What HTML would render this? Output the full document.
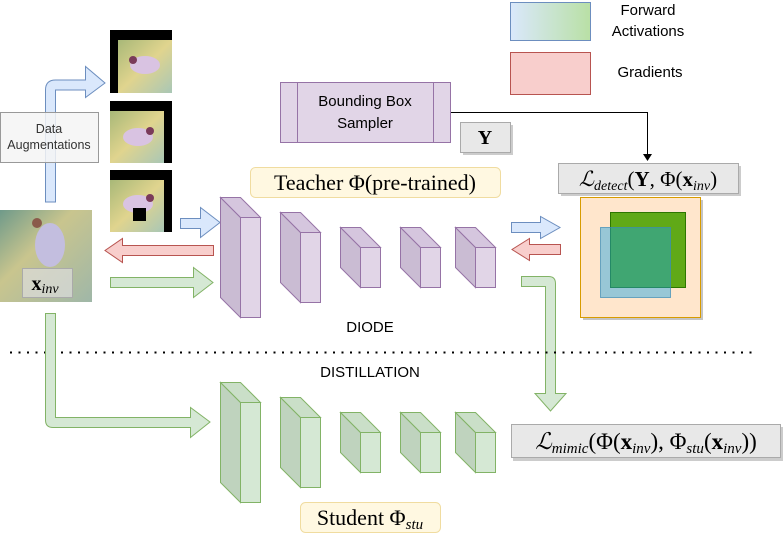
<!DOCTYPE html>
<html><head><meta charset="utf-8"><style>
html,body{margin:0;padding:0;background:#fff;}
svg{display:block;}
text{font-family:"Liberation Sans",sans-serif;}
.m{font-family:"Liberation Serif",serif;}
</style></head><body>
<svg width="783" height="547" viewBox="0 0 783 547" xmlns="http://www.w3.org/2000/svg">
<defs>
<linearGradient id="lg" x1="0" x2="1"><stop offset="0" stop-color="#dae8fc"/><stop offset="1" stop-color="#b9e0a5"/></linearGradient>
<linearGradient id="img" x1="0" y1="0" x2="1" y2="1"><stop offset="0" stop-color="#6f9a8a"/><stop offset="0.4" stop-color="#c9c58e"/><stop offset="1" stop-color="#9fb7a8"/></linearGradient>
<linearGradient id="img2" x1="0" y1="0" x2="1" y2="1"><stop offset="0" stop-color="#a8b878"/><stop offset="0.5" stop-color="#e0d48e"/><stop offset="1" stop-color="#a9c7b6"/></linearGradient>
</defs>

<rect x="510.5" y="2.5" width="80" height="38" fill="url(#lg)" stroke="#6c8ebf"/>
<rect x="510.5" y="52.5" width="80" height="42" fill="#f8cecc" stroke="#b85450"/>
<text x="648" y="15" font-size="15" text-anchor="middle">Forward</text>
<text x="648" y="36" font-size="15" text-anchor="middle">Activations</text>
<text x="650" y="77" font-size="15" text-anchor="middle">Gradients</text>

<rect x="280.5" y="82.5" width="170" height="60" fill="#e1d5e7" stroke="#9673a6"/>
<line x1="297.5" y1="82" x2="297.5" y2="143" stroke="#9673a6"/>
<line x1="433.5" y1="82" x2="433.5" y2="143" stroke="#9673a6"/>
<text x="365" y="106" font-size="15" text-anchor="middle">Bounding Box</text>
<text x="365" y="128" font-size="15" text-anchor="middle">Sampler</text>
<polyline points="451,112.5 647.5,112.5 647.5,155" fill="none" stroke="#000" stroke-width="1"/>
<polygon points="643,154 652,154 647.5,161" fill="#000"/>
<rect x="463" y="125" width="50" height="30" fill="#ccc"/>
<rect x="460.5" y="122.5" width="50" height="30" fill="#e8e8e8" stroke="#aaa"/>
<text x="485" y="144" font-size="20" font-weight="bold" text-anchor="middle" class="m">Y</text>

<g>
<rect x="110" y="30" width="62" height="63" fill="#000"/>
<rect x="118" y="40" width="54" height="53" fill="url(#img2)"/>
<ellipse cx="145" cy="65" rx="15" ry="9" fill="#d9c3e2"/><circle cx="133" cy="60" r="4" fill="#7a3a5a"/>
<rect x="110" y="101" width="62" height="62" fill="#000"/>
<rect x="110" y="111" width="54" height="52" fill="url(#img2)"/>
<ellipse cx="138" cy="137" rx="15" ry="9" fill="#d9c3e2"/><circle cx="150" cy="131" r="4" fill="#7a3a5a"/>
<rect x="110" y="170" width="62" height="62" fill="#000"/>
<rect x="110" y="180" width="54" height="52" fill="url(#img2)"/>
<ellipse cx="138" cy="204" rx="15" ry="9" fill="#d9c3e2"/><circle cx="150" cy="198" r="4" fill="#7a3a5a"/>
<rect x="133" y="208" width="13" height="13" fill="#000"/>
</g>

<path d="M45.5,202 L45.5,90 Q45.5,80 55.5,80 L85.5,80 L85.5,66.5 L105,83 L85.5,97.5 L85.5,90 L55.5,90 L55.5,202 Z" fill="#dae8fc" stroke="#6c8ebf"/>
<rect x="0.5" y="112.5" width="98" height="50" fill="#f5f5f5" fill-opacity="0.85" stroke="#999"/>
<text x="49" y="133" font-size="12.5" text-anchor="middle" fill="#333">Data</text>
<text x="49" y="149" font-size="12.5" text-anchor="middle" fill="#333">Augmentations</text>

<rect x="0" y="210" width="92" height="92" fill="url(#img)"/>
<ellipse cx="50" cy="245" rx="15" ry="22" fill="#c3bedf"/><circle cx="37" cy="223" r="5" fill="#8a5a4a"/>
<rect x="22.5" y="268.5" width="50" height="29" fill="#ddd" fill-opacity="0.7" stroke="#aaa"/>
<text x="45" y="290" font-size="20" font-weight="bold" text-anchor="middle" class="m">x<tspan font-size="14" font-style="italic" font-weight="normal" dy="3">inv</tspan></text>

<path d="M180.5,218.5 L200.5,218.5 L200.5,207.5 L220,222.5 L200.5,237.5 L200.5,228.5 L180.5,228.5 Z" fill="#dae8fc" stroke="#6c8ebf"/>
<path d="M213.5,245.5 L122.5,245.5 L122.5,238.5 L105,250.5 L122.5,262.5 L122.5,255.5 L213.5,255.5 Z" fill="#f8cecc" stroke="#b85450"/>
<path d="M110.5,277.5 L193.5,277.5 L193.5,267.5 L213,282.5 L193.5,297.5 L193.5,287.5 L110.5,287.5 Z" fill="#d5e8d4" stroke="#82b366"/>

<rect x="250.5" y="167.5" width="250" height="30" rx="5" fill="#fff8e1" stroke="#f0dca0"/>
<text x="375" y="190" font-size="22" text-anchor="middle" class="m">Teacher Φ(pre-trained)</text>

<g stroke="#9673a6" stroke-width="1">
<polygon points="220.5,197.5 240.5,217.5 240.5,317.5 220.5,297.5" fill="#cabcd3"/><polygon points="220.5,197.5 240.5,197.5 260.5,217.5 240.5,217.5" fill="#d5c6de"/><rect x="240.5" y="217.5" width="20" height="100" fill="#e1d5e7"/>
<polygon points="280.5,212.5 300.5,232.5 300.5,302.5 280.5,282.5" fill="#cabcd3"/><polygon points="280.5,212.5 300.5,212.5 320.5,232.5 300.5,232.5" fill="#d5c6de"/><rect x="300.5" y="232.5" width="20" height="70" fill="#e1d5e7"/>
<polygon points="340.5,227.5 360.5,247.5 360.5,287.5 340.5,267.5" fill="#cabcd3"/><polygon points="340.5,227.5 360.5,227.5 380.5,247.5 360.5,247.5" fill="#d5c6de"/><rect x="360.5" y="247.5" width="20" height="40" fill="#e1d5e7"/>
<polygon points="400.5,227.5 420.5,247.5 420.5,287.5 400.5,267.5" fill="#cabcd3"/><polygon points="400.5,227.5 420.5,227.5 440.5,247.5 420.5,247.5" fill="#d5c6de"/><rect x="420.5" y="247.5" width="20" height="40" fill="#e1d5e7"/>
<polygon points="455.5,227.5 475.5,247.5 475.5,287.5 455.5,267.5" fill="#cabcd3"/><polygon points="455.5,227.5 475.5,227.5 495.5,247.5 475.5,247.5" fill="#d5c6de"/><rect x="475.5" y="247.5" width="20" height="40" fill="#e1d5e7"/>
</g>

<path d="M511.5,222.5 L540.5,222.5 L540.5,216.5 L560,227.5 L540.5,238.5 L540.5,232.5 L511.5,232.5 Z" fill="#dae8fc" stroke="#6c8ebf"/>
<path d="M560.5,244.5 L529.5,244.5 L529.5,238.5 L512,249.5 L529.5,260.5 L529.5,254.5 L560.5,254.5 Z" fill="#f8cecc" stroke="#b85450"/>
<path d="M521.5,276.5 L548.5,276.5 Q555.5,276.5 555.5,283.5 L555.5,393.5 L566,393.5 L550.5,411 L535,393.5 L545.5,393.5 L545.5,286.5 L521.5,286.5 Z" fill="#d5e8d4" stroke="#82b366"/>

<rect x="561" y="166" width="180" height="30" fill="#ccc"/>
<rect x="558.5" y="163.5" width="180" height="30" fill="#e8e8e8" stroke="#aaa"/>
<text x="648" y="186" font-size="21" text-anchor="middle" class="m"><tspan font-style="italic">ℒ</tspan><tspan font-size="14" font-style="italic" dy="4">detect</tspan><tspan dy="-4">(</tspan><tspan font-weight="bold">Y</tspan>, Φ(<tspan font-weight="bold">x</tspan><tspan font-size="14" font-style="italic" dy="4">inv</tspan><tspan dy="-4">)</tspan></text>

<rect x="583" y="200" width="120" height="120" fill="#c4c4c4"/>
<rect x="580.5" y="197.5" width="120" height="120" fill="#ffe6cc" stroke="#d79b00"/>
<rect x="610.5" y="212.5" width="75" height="75" fill="#60a917" stroke="#2d7600"/>
<rect x="600.5" y="227.5" width="70" height="70" fill="#1ba1e2" fill-opacity="0.45" stroke="#3a8cb5" stroke-opacity="0.7"/>

<text x="370" y="332" font-size="15" text-anchor="middle">DIODE</text>
<line x1="10" y1="352.5" x2="752" y2="352.5" stroke="#000" stroke-width="2" stroke-dasharray="2,6.5"/>
<text x="370" y="377" font-size="15" text-anchor="middle">DISTILLATION</text>

<path d="M45.5,313.5 L45.5,420 Q45.5,427.5 53,427.5 L190.5,427.5 L190.5,437.5 L210,422 L190.5,407.5 L190.5,417.5 L55.5,417.5 L55.5,313.5 Z" fill="#d5e8d4" stroke="#82b366"/>

<g stroke="#82b366" stroke-width="1">
<polygon points="220.5,382.5 240.5,402.5 240.5,502.5 220.5,482.5" fill="#bfd3be"/><polygon points="220.5,382.5 240.5,382.5 260.5,402.5 240.5,402.5" fill="#cadfc8"/><rect x="240.5" y="402.5" width="20" height="100" fill="#d5e8d4"/>
<polygon points="280.5,397.5 300.5,417.5 300.5,487.5 280.5,467.5" fill="#bfd3be"/><polygon points="280.5,397.5 300.5,397.5 320.5,417.5 300.5,417.5" fill="#cadfc8"/><rect x="300.5" y="417.5" width="20" height="70" fill="#d5e8d4"/>
<polygon points="340.5,412.5 360.5,432.5 360.5,472.5 340.5,452.5" fill="#bfd3be"/><polygon points="340.5,412.5 360.5,412.5 380.5,432.5 360.5,432.5" fill="#cadfc8"/><rect x="360.5" y="432.5" width="20" height="40" fill="#d5e8d4"/>
<polygon points="400.5,412.5 420.5,432.5 420.5,472.5 400.5,452.5" fill="#bfd3be"/><polygon points="400.5,412.5 420.5,412.5 440.5,432.5 420.5,432.5" fill="#cadfc8"/><rect x="420.5" y="432.5" width="20" height="40" fill="#d5e8d4"/>
<polygon points="455.5,412.5 475.5,432.5 475.5,472.5 455.5,452.5" fill="#bfd3be"/><polygon points="455.5,412.5 475.5,412.5 495.5,432.5 475.5,432.5" fill="#cadfc8"/><rect x="475.5" y="432.5" width="20" height="40" fill="#d5e8d4"/>
</g>

<rect x="513" y="427" width="270" height="34" fill="#ccc"/>
<rect x="511.5" y="424.5" width="269" height="33" fill="#e8e8e8" stroke="#aaa"/>
<text x="646" y="449" font-size="23" text-anchor="middle" class="m"><tspan font-style="italic">ℒ</tspan><tspan font-size="15" font-style="italic" dy="4">mimic</tspan><tspan dy="-4">(Φ(</tspan><tspan font-weight="bold">x</tspan><tspan font-size="15" font-style="italic" dy="4">inv</tspan><tspan dy="-4">), Φ</tspan><tspan font-size="15" font-style="italic" dy="4">stu</tspan><tspan dy="-4">(</tspan><tspan font-weight="bold">x</tspan><tspan font-size="15" font-style="italic" dy="4">inv</tspan><tspan dy="-4">))</tspan></text>

<rect x="300.5" y="502.5" width="140" height="30" rx="5" fill="#fff8e1" stroke="#f0dca0"/>
<text x="370" y="525" font-size="22" text-anchor="middle" class="m">Student Φ<tspan font-size="15" font-style="italic" dy="4">stu</tspan></text>
</svg>
</body></html>
